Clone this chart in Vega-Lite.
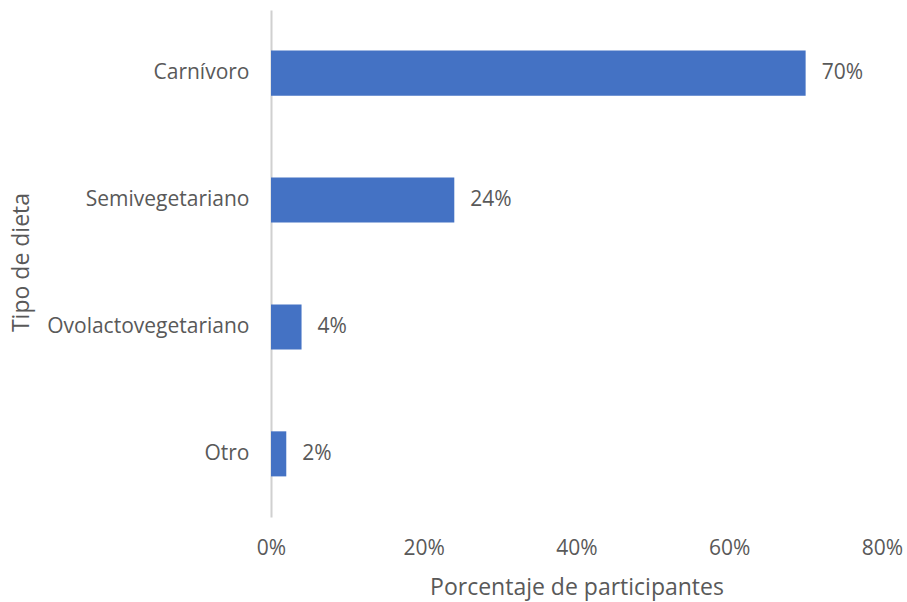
{
  "$schema": "https://vega.github.io/schema/vega-lite/v6.json",
  "autosize": "none",
  "width": 611,
  "height": 507,
  "padding": {"left": 271, "top": 10, "right": 25, "bottom": 85},
  "background": "white",
  "config": {
    "view": {"stroke": null},
    "font": "Open Sans"
  },
  "data": {
    "values": [
      {"dieta": "Carnívoro", "pct": 0.70},
      {"dieta": "Semivegetariano", "pct": 0.24},
      {"dieta": "Ovolactovegetariano", "pct": 0.04},
      {"dieta": "Otro", "pct": 0.02}
    ]
  },
  "encoding": {
    "y": {
      "field": "dieta", "type": "nominal", "sort": null,
      "scale": {"paddingInner": 0.645, "paddingOuter": 0.32},
      "axis": {
        "title": "Tipo de dieta", "titleFont": "Open Sans", "titleFontSize": 23, "titleFontWeight": "normal",
        "titleColor": "#595959", "titleX": -243, "titleY": 252, "titleAngle": -90,
        "titleAlign": "center", "titleBaseline": "alphabetic",
        "labelFont": "Open Sans", "labelFontSize": 21, "labelColor": "#595959", "labelPadding": 22, "labelLimit": 400,
        "ticks": false, "domainColor": "#D0D0D0", "domainWidth": 2, "grid": false
      }
    },
    "x": {
      "field": "pct", "type": "quantitative",
      "scale": {"domain": [0, 0.8], "nice": false},
      "axis": {
        "title": "Porcentaje de participantes", "format": ".0%", "values": [0, 0.2, 0.4, 0.6, 0.8],
        "titleFont": "Open Sans", "titleFontSize": 23, "titleFontWeight": "normal", "titleColor": "#595959", "titlePadding": 18,
        "labelFont": "Open Sans", "labelFontSize": 21, "labelColor": "#595959", "labelPadding": 20, "labelFlush": false,
        "ticks": false, "domain": false, "grid": false
      }
    }
  },
  "layer": [
    {"mark": {"type": "bar", "color": "#4472C4"}},
    {
      "mark": {"type": "text", "align": "left", "dx": 16, "fontSize": 21, "color": "#595959", "font": "Open Sans"},
      "encoding": {"text": {"field": "pct", "type": "quantitative", "format": ".0%"}}
    }
  ]
}
